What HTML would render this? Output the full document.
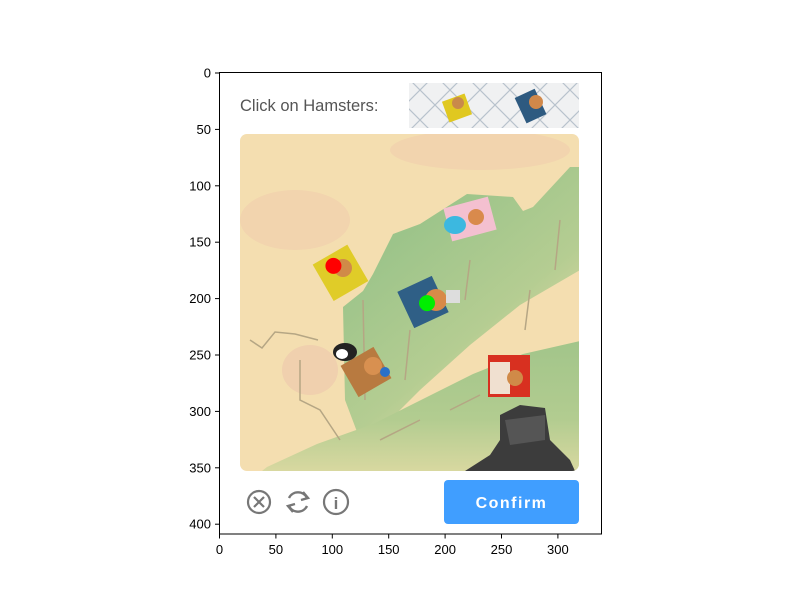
<!DOCTYPE html>
<html><head><meta charset="utf-8"><style>
html,body{margin:0;padding:0;background:#fff;}
svg{display:block;font-family:"Liberation Sans","DejaVu Sans",sans-serif;}
</style></head><body>
<svg id="chart" width="800" height="600" viewBox="0 0 800 600">
  <defs>
    <clipPath id="imgclip"><rect x="240" y="134" width="339" height="337" rx="7"/></clipPath>
    <linearGradient id="g1" x1="0.3" y1="0.2" x2="0.8" y2="0.9"><stop offset="0" stop-color="#9cc48a"/><stop offset="0.55" stop-color="#b5cd92"/><stop offset="1" stop-color="#ecdcaa"/></linearGradient>
    <linearGradient id="g2" x1="0" y1="0" x2="0" y2="1"><stop offset="0" stop-color="#a2c58a"/><stop offset="0.6" stop-color="#b2cc90"/><stop offset="1" stop-color="#d8d8a0"/></linearGradient>
    <pattern id="net" width="30" height="30" patternUnits="userSpaceOnUse"><path d="M0 30 L30 0 M0 0 L30 30" stroke="#b8c2cc" stroke-width="1.2"/></pattern>
  </defs>
  <rect x="219.5" y="72.5" width="382" height="461.5" fill="#fff"/>
  <text x="240" y="111" font-size="16.5" fill="#555">Click on Hamsters:</text>
  <g>
    <rect x="409" y="83" width="170" height="45" fill="#f0f1f2"/>
    <rect x="409" y="83" width="170" height="45" fill="url(#net)"/>
    <rect x="445" y="97" width="24" height="22" fill="#e0c820" transform="rotate(-20 457 108)"/>
    <circle cx="458" cy="103" r="6" fill="#c98a4a"/>
    <rect x="520" y="92" width="22" height="28" fill="#2e5a80" transform="rotate(-25 531 107)"/>
    <circle cx="536" cy="102" r="7" fill="#d0884a"/>
  </g>
  <g clip-path="url(#imgclip)">
    <rect x="240" y="134" width="339" height="337" fill="#f4deb0"/>
    <ellipse cx="295" cy="220" rx="55" ry="30" fill="#f2d4ae"/>
    <ellipse cx="480" cy="150" rx="90" ry="20" fill="#f2d4ae"/>
    <ellipse cx="310" cy="370" rx="28" ry="25" fill="#f0d0ae"/>
    <polygon points="343,307 363,291 373,274 393,234 420,224 467,194 513,197 523,211 533,207 570,167 580,167 580,270 520,305 470,345 420,390 380,430 362,445 345,400" fill="url(#g1)"/>
    <polygon points="262,471 267,467 317,444 373,424 427,397 473,374 523,354 580,341 580,471" fill="url(#g2)"/>
    <g stroke="#b5a684" stroke-width="1.5" fill="none">
      <path d="M250 340 L262 348 L275 332 L295 334 L318 340"/>
      <path d="M300 360 L300 400 L320 410 L340 440"/>
      <path d="M363 300 L365 400"/>
      <path d="M410 330 L405 380"/>
      <path d="M470 260 L465 300"/>
      <path d="M530 290 L525 330"/>
      <path d="M560 220 L555 270"/>
      <path d="M380 440 L420 420 M450 410 L480 395"/>
    </g>
    <g>
      <polygon points="500,415 520,405 545,408 550,440 570,460 575,471 465,471 490,455 500,440" fill="#3c3c3c"/>
      <polygon points="505,420 545,415 545,440 510,445" fill="#555"/>
    </g>
    <g><rect x="447" y="202" width="46" height="34" fill="#f4c0d0" transform="rotate(-15 470 219)"/><ellipse cx="455" cy="225" rx="11" ry="9" fill="#3cb8e0"/><circle cx="476" cy="217" r="8" fill="#d98a4c"/></g>
    <g><rect x="320" y="252" width="40" height="42" fill="#e0cc28" transform="rotate(-30 340 272)"/><circle cx="343" cy="268" r="9" fill="#d08a48"/></g>
    <g><rect x="404" y="282" width="38" height="40" fill="#2f5f86" transform="rotate(-25 423 302)"/><circle cx="436" cy="300" r="11" fill="#d88a48"/><rect x="446" y="290" width="14" height="13" fill="#ddd"/></g>
    <g><rect x="347" y="354" width="38" height="36" fill="#b87a40" transform="rotate(-30 366 372)"/><circle cx="373" cy="366" r="9" fill="#d89050"/><circle cx="385" cy="372" r="5" fill="#2a70c8"/></g>
    <g><ellipse cx="345" cy="352" rx="12" ry="9" fill="#222"/><ellipse cx="342" cy="354" rx="6" ry="5" fill="#fff"/></g>
    <g><rect x="488" y="355" width="42" height="42" fill="#d83020"/><rect x="490" y="362" width="20" height="32" fill="#f0e0d0"/><circle cx="515" cy="378" r="8" fill="#d08a48"/></g>
  </g>
  <g id="marks"></g>
  <g>
    <g stroke="#777" stroke-width="2.2" fill="none">
      <circle cx="259" cy="502" r="11"/><path d="M254 497 L264 507 M264 497 L254 507"/>
    </g>
    <g stroke="#777" stroke-width="2.4" fill="none">
      <path d="M289 498 A10 10 0 0 1 307 498"/><path d="M307 506 A10 10 0 0 1 289 506"/>
      <path d="M303 492 L308 498 L301 500" /><path d="M293 512 L288 506 L295 504"/>
    </g>
    <g>
      <circle cx="336" cy="502" r="12" fill="none" stroke="#777" stroke-width="2.2"/>
      <text x="336" y="509" font-size="17" font-weight="bold" fill="#777" text-anchor="middle">i</text>
    </g>
    <rect x="444" y="480" width="135" height="44" rx="4" fill="#409eff"/>
    <text x="511.5" y="508" font-size="16" font-weight="bold" fill="#fff" text-anchor="middle" letter-spacing="1.5">Confirm</text>
  </g>
  <g id="axes"></g>
</svg>
<script>
const xTicks = [0, 50, 100, 150, 200, 250, 300];
const yTicks = [0, 50, 100, 150, 200, 250, 300, 350, 400];
const clickX = [101, 184];
const clickY = [171, 204];
const clickColors = ["#ff0000", "#00ee00"];

const X0 = 219.5, Y0 = 73, K = 1.128;
function sx(v){ return X0 + v*K; }
function sy(v){ return Y0 + v*K; }
const NS = "http://www.w3.org/2000/svg";
function mk(tag, attrs, parent){
  const e = document.createElementNS(NS, tag);
  for (const k in attrs) e.setAttribute(k, attrs[k]);
  parent.appendChild(e); return e;
}
const marks = document.getElementById('marks');
for (let i = 0; i < clickX.length; i++){
  const c = mk('circle', {cx: sx(clickX[i]), cy: sy(clickY[i]), r: 8, fill: clickColors[i]}, marks);
  
  
}
const ax = document.getElementById('axes');
const frame = mk('rect', {x: 219.5, y: 72.5, width: 382, height: 461.5, fill: 'none', stroke: '#000', 'stroke-width': 1}, ax);


xTicks.forEach(v => {
  const x = sx(v);
  mk('line', {x1: x, x2: x, y1: 534, y2: 538.5, stroke: '#000', 'stroke-width': 1}, ax);
  const t = mk('text', {x: x, y: 554, 'font-size': 13, 'text-anchor': 'middle', fill: '#000'}, ax);
  t.textContent = v;
  
  
});
yTicks.forEach(v => {
  const y = sy(v);
  mk('line', {x1: 215, x2: 219.5, y1: y, y2: y, stroke: '#000', 'stroke-width': 1}, ax);
  const t = mk('text', {x: 211, y: y + 4.5, 'font-size': 13, 'text-anchor': 'end', fill: '#000'}, ax);
  t.textContent = v;
  
  
});
</script>
</body></html>
